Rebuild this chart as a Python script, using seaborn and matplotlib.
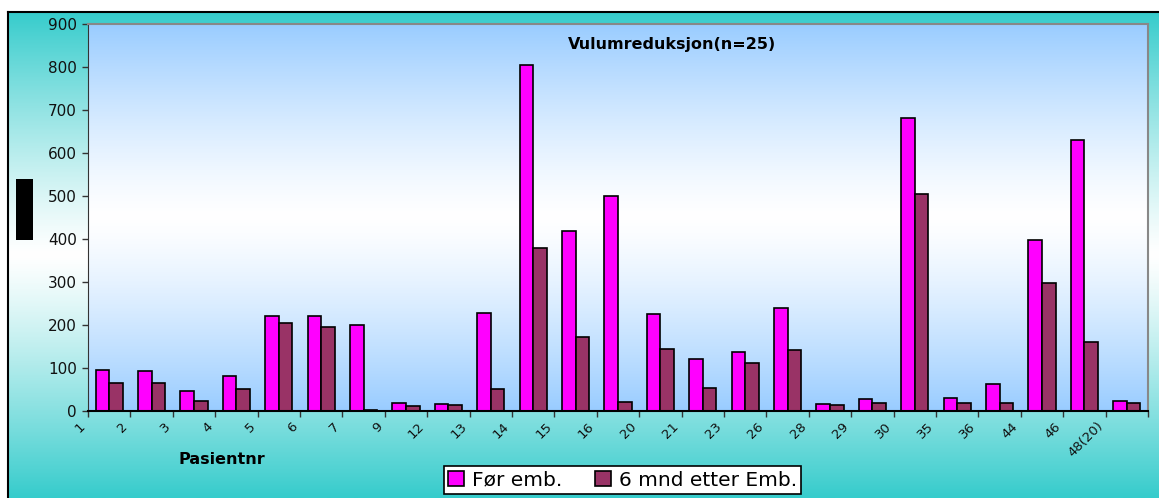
import numpy as np
import pandas as pd
import seaborn as sns
import matplotlib.pyplot as plt
from matplotlib.patches import Rectangle
from matplotlib.colors import to_rgb

# Data lest av figuren
pasienter = ['1', '2', '3', '4', '5', '6', '7', '9', '12', '13', '14', '15', '16',
             '20', '21', '23', '26', '28', '29', '30', '35', '36', '44', '46', '48(20)']
for_emb = [96, 93, 48, 82, 222, 222, 200, 19, 17, 229, 805, 419, 501,
           226, 122, 138, 240, 18, 29, 682, 32, 63, 398, 630, 23]
etter_emb = [65, 65, 25, 51, 206, 197, 3, 12, 14, 51, 380, 172, 22,
             145, 54, 113, 142, 15, 20, 505, 20, 20, 299, 161, 20]
serier = ['Før emb.', '6 mnd etter Emb.']
farger = {'Før emb.': '#FF00FF', '6 mnd etter Emb.': '#993366'}

df = pd.DataFrame({
    'Pasientnr': pasienter * 2,
    'Volum': for_emb + etter_emb,
    'Tid': [serier[0]] * len(pasienter) + [serier[1]] * len(pasienter),
})

sns.set_style('white')
plt.rcParams['font.family'] = ['DejaVu Sans']
plt.rcParams['text.color'] = 'black'

W, H = 1159, 498
fig = plt.figure(figsize=(W / 100, H / 100), dpi=100)
fig.patch.set_facecolor('white')


def gradient(c_edge, n=256, p=1.0):
    t = np.abs(np.linspace(-1, 1, n)) ** p
    c = np.array(to_rgb(c_edge))
    g = (1 - t)[:, None] * np.ones(3) + t[:, None] * c
    return g[:, None, :]


# Ytre ramme med gradient
bg = fig.add_axes([8 / W, 0, 1 - 8 / W, 486 / H], zorder=-5)
bg.imshow(gradient('#36CCCC', p=1.2), aspect='auto', extent=[0, 1, 0, 1])
bg.set_xticks([])
bg.set_yticks([])
for s in ['right', 'bottom']:
    bg.spines[s].set_visible(False)
for s in ['top', 'left']:
    bg.spines[s].set_color('black')
    bg.spines[s].set_linewidth(1.5)

# Plotområdet
ax = fig.add_axes([88 / W, 1 - 411.3 / H, (1148 - 88) / W, (411.3 - 24) / H])
ax.set_facecolor('none')

sns.barplot(data=df, x='Pasientnr', y='Volum', hue='Tid', order=pasienter,
            hue_order=serier, palette=farger, width=0.64, saturation=1,
            edgecolor='black', linewidth=1.2, ax=ax)

n = len(pasienter)
ax.imshow(gradient('#99CCFF', p=1.3), aspect='auto', zorder=0,
          extent=[-0.5, n - 0.5, 0, 900])
ax.set_xlim(-0.5, n - 0.5)
ax.set_ylim(0, 900)
ax.set_yticks(np.arange(0, 901, 100))
ax.set_xticks(np.arange(n + 1) - 0.5, pasienter + [''])
ax.tick_params(axis='y', labelsize=11, length=4, width=1, color='#333333',
               pad=4, left=True, labelcolor='#111111')
ax.tick_params(axis='x', labelsize=9.5, length=4, width=1, color='#333333',
               pad=2, bottom=True, labelcolor='#111111')
for lbl in ax.get_xticklabels():
    lbl.set_rotation(45)
    lbl.set_ha('right')
ax.set_xlabel('')
ax.set_ylabel('')

ax.spines['left'].set_color('#333333')
ax.spines['bottom'].set_color('black')
ax.spines['bottom'].set_linewidth(1.5)
for s in ['top', 'right']:
    ax.spines[s].set_visible(True)
    ax.spines[s].set_color('#888888')
    ax.spines[s].set_linewidth(1.5)

ax.text(0.551, 0.948, 'Vulumreduksjon(n=25)', transform=ax.transAxes,
        ha='center', va='center', fontsize=11.5, fontweight='bold', color='black')
fig.text(222 / W, 1 - 459 / H, 'Pasientnr', ha='center', va='center',
         fontsize=11.5, fontweight='bold', color='black')

# Svart felt til venstre
fig.patches.append(Rectangle((16 / W, 1 - 240 / H), 17 / W, 61 / H,
                             transform=fig.transFigure, facecolor='black',
                             edgecolor='none', figure=fig))

handles, labels = ax.get_legend_handles_labels()
ax.legend_.remove()
leg = fig.legend(handles, labels, loc='center', bbox_to_anchor=(622.5 / W, 1 - 480 / H),
                 ncol=2, fontsize=14.5, frameon=True, fancybox=False,
                 framealpha=1, edgecolor='black', handlelength=0.8,
                 handleheight=0.8, handletextpad=0.4, columnspacing=1.6,
                 borderpad=0.2, borderaxespad=0)
leg.get_frame().set_linewidth(1.2)
for t in leg.get_texts():
    t.set_color('black')

fig.savefig('out.png', dpi=100)
